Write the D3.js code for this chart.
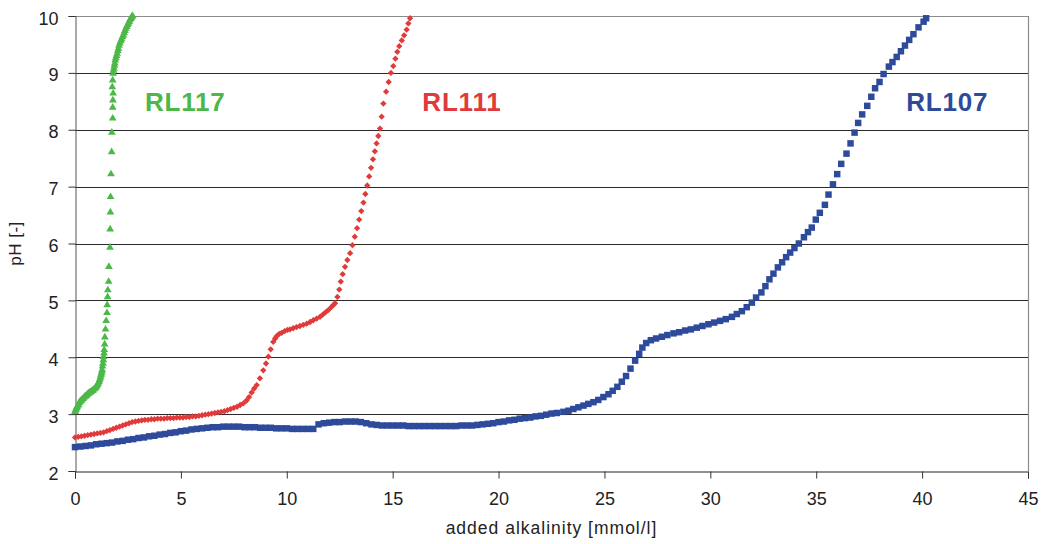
<!DOCTYPE html>
<html>
<head>
<meta charset="utf-8">
<script src="https://cdn.jsdelivr.net/npm/d3@7/dist/d3.min.js"></script>
<style>
  body { margin: 0; background: #fff; }
  svg { display: block; font-family: "Liberation Sans", Arial, sans-serif; }
  .axis text { font-size: 18px; fill: #222; }
</style>
</head>
<body>
<svg id="chart" width="1041" height="544"></svg>
<script>
// series names and colours
const seriesNames = ["RL117", "RL111", "RL107"];
const seriesColors = ["#4cb848", "#e03a3a", "#2e4a9b"];

// RL117 [added alkalinity, pH]
const rl117 = [
  [0.00,3.04],[0.03,3.07],[0.05,3.09],[0.08,3.11],[0.10,3.13],[0.14,3.15],[0.17,3.17],[0.20,3.20],
  [0.23,3.22],[0.27,3.23],[0.30,3.24],[0.34,3.26],[0.38,3.27],[0.42,3.29],[0.47,3.31],[0.51,3.32],
  [0.55,3.33],[0.59,3.35],[0.62,3.36],[0.66,3.37],[0.70,3.38],[0.74,3.39],[0.78,3.40],[0.82,3.41],
  [0.86,3.42],[0.90,3.44],[0.94,3.45],[0.98,3.47],[1.02,3.49],[1.06,3.51],[1.10,3.54],[1.13,3.57],
  [1.16,3.60],[1.19,3.63],[1.21,3.66],[1.23,3.69],[1.25,3.72],[1.27,3.75],[1.28,3.78],[1.30,3.84],
  [1.32,3.89],[1.34,3.95],[1.35,4.01],[1.37,4.07],[1.38,4.13],[1.40,4.23],[1.41,4.35],[1.44,4.49],
  [1.47,4.64],[1.51,4.78],[1.52,4.92],[1.54,5.06],[1.55,5.18],[1.59,5.33],[1.60,5.59],[1.65,5.93],
  [1.66,6.25],[1.67,6.55],[1.68,6.82],[1.70,7.22],[1.73,7.61],[1.74,7.95],[1.78,8.20],[1.78,8.39],
  [1.79,8.52],[1.80,8.64],[1.76,8.75],[1.78,8.87],[1.80,8.99],[1.82,9.04],[1.84,9.08],[1.86,9.13],
  [1.88,9.17],[1.90,9.22],[1.93,9.26],[1.96,9.30],[1.99,9.34],[2.02,9.39],[2.05,9.43],[2.08,9.48],
  [2.12,9.52],[2.16,9.56],[2.20,9.59],[2.24,9.63],[2.28,9.66],[2.32,9.70],[2.36,9.74],[2.40,9.78],
  [2.44,9.81],[2.48,9.84],[2.52,9.87],[2.56,9.90],[2.59,9.93],[2.63,9.95],[2.66,9.97],[2.69,9.99],
  [2.72,10.00]
];

// RL111 [added alkalinity, pH]
const rl111 = [
  [0.00,2.59],[0.15,2.60],[0.30,2.61],[0.45,2.62],[0.60,2.63],[0.75,2.64],[0.90,2.65],[1.05,2.66],
  [1.20,2.67],[1.35,2.68],[1.50,2.70],[1.65,2.72],[1.80,2.74],[1.95,2.76],[2.10,2.78],[2.25,2.80],
  [2.40,2.82],[2.55,2.84],[2.70,2.86],[2.85,2.87],[3.00,2.88],[3.15,2.89],[3.30,2.90],[3.45,2.90],
  [3.60,2.91],[3.75,2.91],[3.90,2.92],[4.05,2.92],[4.20,2.92],[4.35,2.93],[4.50,2.93],[4.65,2.93],
  [4.80,2.94],[4.95,2.94],[5.10,2.94],[5.25,2.95],[5.40,2.95],[5.55,2.96],[5.70,2.96],[5.85,2.97],
  [6.00,2.98],[6.15,2.99],[6.30,3.00],[6.45,3.01],[6.60,3.02],[6.75,3.03],[6.90,3.04],[7.05,3.05],
  [7.20,3.07],[7.35,3.09],[7.50,3.11],[7.65,3.13],[7.80,3.16],[7.95,3.19],[8.10,3.24],[8.22,3.30],
  [8.34,3.38],[8.46,3.45],[8.58,3.51],[8.73,3.63],[8.89,3.77],[9.02,3.89],[9.13,4.01],[9.24,4.14],
  [9.36,4.27],[9.45,4.33],[9.52,4.37],[9.64,4.41],[9.76,4.43],[9.90,4.46],[10.03,4.48],[10.15,4.49],
  [10.30,4.51],[10.46,4.53],[10.62,4.55],[10.78,4.57],[10.94,4.59],[11.10,4.62],[11.25,4.65],[11.41,4.68],
  [11.57,4.71],[11.70,4.75],[11.83,4.79],[11.96,4.83],[12.10,4.88],[12.20,4.92],[12.28,4.95],[12.39,5.06],
  [12.48,5.19],[12.55,5.33],[12.64,5.46],[12.75,5.59],[12.86,5.71],[12.99,5.83],[13.10,5.97],[13.21,6.12],
  [13.32,6.27],[13.42,6.42],[13.52,6.57],[13.62,6.72],[13.71,6.87],[13.80,7.02],[13.89,7.18],[13.98,7.33],
  [14.07,7.48],[14.16,7.62],[14.24,7.76],[14.32,7.89],[14.40,8.02],[14.48,8.23],[14.56,8.46],[14.69,8.67],
  [14.81,8.84],[14.92,9.00],[15.03,9.12],[15.13,9.25],[15.22,9.37],[15.31,9.47],[15.43,9.57],[15.54,9.66],
  [15.66,9.76],[15.74,9.87],[15.82,9.96]
];

// RL107 [added alkalinity, pH]
const rl107 = [
  [0.00,2.42],[0.25,2.43],[0.50,2.44],[0.75,2.45],[1.00,2.47],[1.25,2.48],[1.50,2.49],[1.75,2.50],
  [2.00,2.52],[2.25,2.53],[2.50,2.55],[2.75,2.56],[3.00,2.58],[3.25,2.59],[3.50,2.61],[3.75,2.62],
  [4.00,2.64],[4.25,2.65],[4.50,2.67],[4.75,2.68],[5.00,2.70],[5.25,2.71],[5.50,2.73],[5.75,2.74],
  [6.00,2.75],[6.25,2.76],[6.50,2.77],[6.75,2.77],[7.00,2.78],[7.25,2.78],[7.50,2.78],[7.75,2.78],
  [8.00,2.77],[8.25,2.77],[8.50,2.77],[8.75,2.76],[9.00,2.76],[9.25,2.76],[9.50,2.75],[9.75,2.75],
  [10.00,2.75],[10.25,2.74],[10.50,2.74],[10.75,2.74],[11.00,2.74],[11.25,2.74],[11.50,2.82],[11.75,2.84],
  [12.00,2.85],[12.25,2.86],[12.50,2.86],[12.75,2.87],[13.00,2.87],[13.25,2.87],[13.50,2.86],[13.75,2.84],
  [14.00,2.82],[14.25,2.81],[14.50,2.80],[14.75,2.80],[15.00,2.80],[15.25,2.80],[15.50,2.80],[15.75,2.79],
  [16.00,2.79],[16.25,2.79],[16.50,2.79],[16.75,2.79],[17.00,2.79],[17.25,2.79],[17.50,2.79],[17.75,2.79],
  [18.00,2.79],[18.25,2.80],[18.50,2.80],[18.75,2.80],[19.00,2.81],[19.25,2.82],[19.50,2.83],[19.75,2.84],
  [20.00,2.86],[20.25,2.87],[20.50,2.89],[20.75,2.90],[21.00,2.92],[21.25,2.93],[21.50,2.94],[21.75,2.96],
  [22.00,2.97],[22.25,2.99],[22.50,3.01],[22.75,3.02],[23.06,3.04],[23.30,3.06],[23.53,3.09],[23.77,3.12],
  [24.01,3.15],[24.24,3.18],[24.48,3.21],[24.71,3.25],[24.95,3.30],[25.19,3.35],[25.39,3.41],[25.61,3.48],
  [25.82,3.57],[26.02,3.67],[26.23,3.80],[26.45,3.94],[26.64,4.06],[26.79,4.17],[26.97,4.25],[27.19,4.30],
  [27.44,4.33],[27.71,4.36],[27.97,4.39],[28.26,4.42],[28.53,4.44],[28.81,4.47],[29.08,4.49],[29.36,4.52],
  [29.63,4.55],[29.91,4.58],[30.18,4.61],[30.46,4.64],[30.73,4.67],[31.02,4.71],[31.25,4.76],[31.49,4.81],
  [31.72,4.88],[31.96,4.96],[32.16,5.05],[32.41,5.14],[32.60,5.25],[32.79,5.37],[32.98,5.47],[33.19,5.58],
  [33.39,5.67],[33.58,5.76],[33.77,5.84],[33.97,5.92],[34.18,6.00],[34.42,6.11],[34.61,6.20],[34.79,6.28],
  [34.98,6.42],[35.17,6.54],[35.41,6.68],[35.58,6.86],[35.79,7.04],[35.99,7.22],[36.18,7.40],[36.43,7.58],
  [36.62,7.76],[36.81,7.95],[36.98,8.12],[37.17,8.27],[37.41,8.42],[37.60,8.58],[37.78,8.73],[37.99,8.84],
  [38.18,8.98],[38.43,9.11],[38.60,9.19],[38.80,9.28],[39.00,9.38],[39.19,9.48],[39.39,9.58],[39.59,9.68],
  [39.83,9.80],[40.07,9.90],[40.19,9.96]
];

const xTicks = [0, 5, 10, 15, 20, 25, 30, 35, 40, 45];
const yTicks = [2, 3, 4, 5, 6, 7, 8, 9, 10];
const xTitle = "added alkalinity [mmol/l]";
const yTitle = "pH [-]";

const svg = d3.select("#chart");
const plotL = 75, plotR = 1028, plotT = 16, plotB = 471;

const x = d3.scaleLinear().domain([0, 45]).range([plotL, plotR]);
const y = d3.scaleLinear().domain([2, 10]).range([plotB, plotT]);

// gridlines
svg.append("g")
  .selectAll("line")
  .data(yTicks.slice(1, -1))
  .join("line")
  .attr("x1", plotL).attr("x2", plotR)
  .attr("y1", d => Math.round(y(d)) + 0.5).attr("y2", d => Math.round(y(d)) + 0.5)
  .attr("stroke", "#2a2a2a").attr("stroke-width", 1);

// plot border (top / right)
svg.append("path")
  .attr("d", `M${plotL},${plotT + 0.5}H${plotR + 0.5}V${plotB}`)
  .attr("fill", "none").attr("stroke", "#8c8c8c").attr("stroke-width", 1.2);

// axes
const yAxis = svg.append("g").attr("class", "axis")
  .attr("transform", `translate(${plotL + 0.5},0)`)
  .call(d3.axisLeft(y).tickValues(yTicks).tickSize(7).tickPadding(10));
yAxis.select(".domain").attr("stroke", "#555");
yAxis.selectAll(".tick line").attr("stroke", "#333");
yAxis.selectAll("text").attr("dy", "0.45em");

const xAxis = svg.append("g").attr("class", "axis")
  .attr("transform", `translate(0,${plotB + 0.5})`)
  .call(d3.axisBottom(x).tickValues(xTicks).tickSize(7).tickPadding(14));
xAxis.select(".domain").attr("stroke", "#222");
xAxis.selectAll(".tick line").attr("stroke", "#333");

// axis titles
svg.append("text")
  .attr("x", (plotL + plotR) / 2).attr("y", 534)
  .attr("text-anchor", "middle")
  .attr("font-size", 17.5).attr("letter-spacing", 1).attr("fill", "#222")
  .text(xTitle);

svg.append("text")
  .attr("transform", `translate(21,${(plotT + plotB) / 2}) rotate(-90)`)
  .attr("text-anchor", "middle")
  .attr("font-size", 17).attr("letter-spacing", 0.5).attr("fill", "#222")
  .text(yTitle);

// markers
const series = [
  { data: rl117, shape: d3.symbolTriangle, size: 26, rot: 0 },
  { data: rl111, shape: d3.symbolSquare, size: 20, rot: 45 },
  { data: rl107, shape: d3.symbolSquare, size: 42, rot: 0 }
];

// draw blue first, then red, then green on top
[2, 1, 0].forEach(i => {
  const s = series[i];
  const sym = d3.symbol().type(s.shape).size(s.size);
  svg.append("g")
    .selectAll("path")
    .data(s.data)
    .join("path")
    .attr("d", sym)
    .attr("transform", d => `translate(${x(d[0])},${y(d[1])}) rotate(${s.rot})`)
    .attr("fill", seriesColors[i]);
});

// series labels
const labelAt = [[3.3, 8.33], [16.4, 8.33], [39.25, 8.33]];
svg.append("g")
  .selectAll("text")
  .data(seriesNames)
  .join("text")
  .attr("x", (d, i) => x(labelAt[i][0]))
  .attr("y", (d, i) => y(labelAt[i][1]))
  .attr("font-size", 26).attr("font-weight", "bold").attr("letter-spacing", 0.8)
  .attr("fill", (d, i) => seriesColors[i])
  .text(d => d);
</script>
</body>
</html>
